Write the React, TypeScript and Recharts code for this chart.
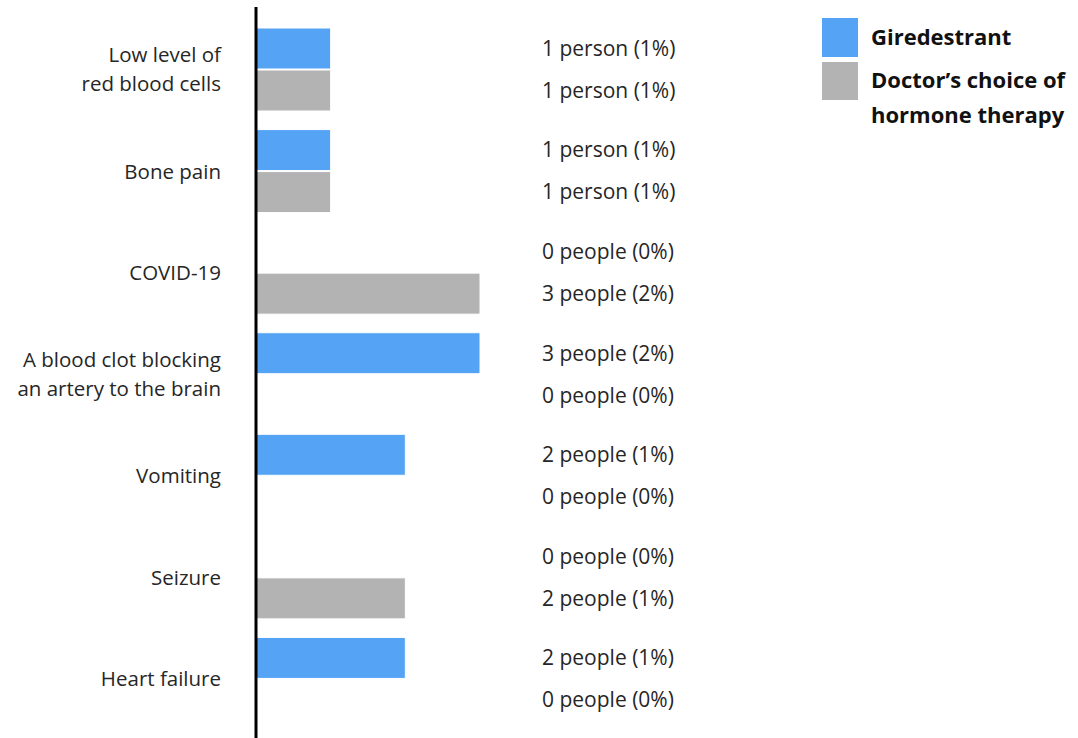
import { BarChart, Bar, XAxis, YAxis } from 'recharts';

const categories = [
  'Low level of\nred blood cells',
  'Bone pain',
  'COVID-19',
  'A blood clot blocking\nan artery to the brain',
  'Vomiting',
  'Seizure',
  'Heart failure',
];
const giredestrantCounts = [1, 1, 0, 3, 2, 0, 2];
const giredestrantPct = [1, 1, 0, 2, 1, 0, 1];
const doctorCounts = [1, 1, 3, 0, 0, 2, 0];
const doctorPct = [1, 1, 2, 0, 0, 1, 0];

const BLUE = '#55A3F4';
const GRAY = '#B3B3B3';
const TEXT = '#262626';
const FONT = '"Open Sans", sans-serif';

const data = categories.map((c, i) => ({
  name: c,
  gir: giredestrantCounts[i],
  girPct: giredestrantPct[i],
  doc: doctorCounts[i],
  docPct: doctorPct[i],
}));

const peopleText = (n: number, pct: number) =>
  `${n} ${n === 1 ? 'person' : 'people'} (${pct}%)`;

function CategoryTick(props: any) {
  const { x, y, payload } = props;
  const lines = String(payload.value).split('\n');
  const lh = 29;
  const y0 = y - ((lines.length - 1) * lh) / 2;
  return (
    <text x={x - 27} textAnchor="end" fontSize={20.5} fill={TEXT} fontFamily={FONT}>
      {lines.map((l, i) => (
        <tspan key={i} x={x - 27} y={y0 + i * lh} dy="0.35em">{l}</tspan>
      ))}
    </text>
  );
}

// bar + its value text in the fixed column on the right
const barWithLabel = (color: string, key: 'gir' | 'doc') => (props: any) => {
  const { x, y, width, height, payload } = props;
  const n = key === 'gir' ? payload.gir : payload.doc;
  const p = key === 'gir' ? payload.girPct : payload.docPct;
  return (
    <g>
      {width > 0 && (
        <rect x={x} y={y} width={width} height={height} fill={color} stroke="#fff" strokeWidth={1} />
      )}
      <text x={542} y={y + height / 2} dy="0.35em" fontSize={21} fill={TEXT} fontFamily={FONT}>
        {peopleText(n, p)}
      </text>
    </g>
  );
};

function LegendBox() {
  const item = (color: string, lines: string[], h: number, textTop: number) => (
    <div style={{ display: 'flex', alignItems: 'flex-start', marginBottom: 5 }}>
      <div style={{ width: 36, height: h, background: color, flex: 'none' }} />
      <div style={{ marginLeft: 13, marginTop: textTop, fontWeight: 700, fontSize: 22, lineHeight: '35px', color: '#111', whiteSpace: 'nowrap' }}>
        {lines.map((l, i) => <div key={i}>{l}</div>)}
      </div>
    </div>
  );
  return (
    <div style={{ position: 'absolute', top: 18, left: 822, fontFamily: FONT }}>
      {item(BLUE, ['Giredestrant'], 39, 1)}
      {item(GRAY, ['Doctor\u2019s choice of', 'hormone therapy'], 38, 0)}
    </div>
  );
}

export default function App() {
  return (
    <div style={{ position: 'absolute', left: 0, top: 0, width: 1078, height: 738, background: '#fff' }}>
      <BarChart
        width={1078}
        height={738}
        data={data}
        layout="vertical"
        margin={{ top: 7, right: 598, left: 0, bottom: 0 }}
        barGap={1}
        barSize={41}
      >
        <XAxis type="number" domain={[0, 3]} hide />
        <YAxis
          type="category"
          dataKey="name"
          width={256}
          padding={{ top: 12, bottom: 8 }}
          tick={<CategoryTick />}
          tickLine={false}
          axisLine={{ stroke: '#000', strokeWidth: 3 }}
          interval={0}
        />
        <Bar dataKey="gir" fill={BLUE} shape={barWithLabel(BLUE, 'gir')} isAnimationActive={false} />
        <Bar dataKey="doc" fill={GRAY} shape={barWithLabel(GRAY, 'doc')} isAnimationActive={false} />
      </BarChart>
      <LegendBox />
    </div>
  );
}
